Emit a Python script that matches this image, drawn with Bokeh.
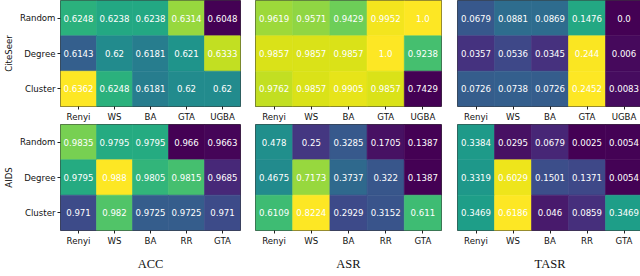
from bokeh.plotting import figure
from bokeh.models import FactorRange, LinearColorMapper, ColumnDataSource
from bokeh.layouts import column, row
from bokeh.palettes import Viridis256
from bokeh.core.properties import value
from bokeh.embed import file_html
from bokeh.resources import INLINE

# ---------------- data ----------------
row_labels = ["Random", "Degree", "Cluster"]
cite_cols = ["Renyi", "WS", "BA", "GTA", "UGBA"]
aids_cols = ["Renyi", "WS", "BA", "RR", "GTA"]

acc_cite = [[0.6248, 0.6238, 0.6238, 0.6314, 0.6048],
            [0.6143, 0.62, 0.6181, 0.621, 0.6333],
            [0.6362, 0.6248, 0.6181, 0.62, 0.62]]
asr_cite = [[0.9619, 0.9571, 0.9429, 0.9952, 1.0],
            [0.9857, 0.9857, 0.9857, 1.0, 0.9238],
            [0.9762, 0.9857, 0.9905, 0.9857, 0.7429]]
tasr_cite = [[0.0679, 0.0881, 0.0869, 0.1476, 0.0],
             [0.0357, 0.0536, 0.0345, 0.244, 0.006],
             [0.0726, 0.0738, 0.0726, 0.2452, 0.0083]]

acc_aids = [[0.9835, 0.9795, 0.9795, 0.966, 0.9663],
            [0.9795, 0.988, 0.9805, 0.9815, 0.9685],
            [0.971, 0.982, 0.9725, 0.9725, 0.971]]
asr_aids = [[0.478, 0.25, 0.3285, 0.1705, 0.1387],
            [0.4675, 0.7173, 0.3737, 0.322, 0.1387],
            [0.6109, 0.8224, 0.2929, 0.3152, 0.611]]
tasr_aids = [[0.3384, 0.0295, 0.0679, 0.0025, 0.0054],
             [0.3319, 0.6029, 0.1501, 0.1371, 0.0054],
             [0.3469, 0.6186, 0.046, 0.0859, 0.3469]]

metric_titles = ["ACC", "ASR", "TASR"]
dataset_names = ["CiteSeer", "AIDS"]

FONT = "DejaVu Sans"
FS = "8.6px"


def panel(vals, cols, ylabel, xlabel, bl, fw, br, fh, bb):
    xs, ys, vs, ts = [], [], [], []
    for i, r in enumerate(row_labels):
        for j, c in enumerate(cols):
            xs.append(c)
            ys.append(r)
            vs.append(vals[i][j])
            ts.append(str(vals[i][j]))
    flat = [v for rr in vals for v in rr]
    mapper = LinearColorMapper(palette=Viridis256, low=min(flat), high=max(flat))
    src = ColumnDataSource(dict(x=xs, y=ys, v=vs, t=ts))
    p = figure(x_range=FactorRange(*cols),
               y_range=FactorRange(*reversed(row_labels)),
               frame_width=fw, frame_height=fh,
               min_border_left=bl, min_border_right=br,
               min_border_top=0, min_border_bottom=bb,
               toolbar_location=None, output_backend="svg",
               y_axis_location="left" if ylabel else None)
    p.rect(x="x", y="y", width=1, height=1, source=src,
           fill_color={"field": "v", "transform": mapper},
           line_color={"field": "v", "transform": mapper}, line_width=0.6)
    p.text(x="x", y="y", text="t", source=src, text_align="center",
           text_baseline="middle", text_color="white",
           text_font_size=FS, text_font=value(FONT))
    p.xgrid.visible = False
    p.ygrid.visible = False
    p.outline_line_color = "#3a3a3a"
    p.outline_line_width = 1
    p.background_fill_color = "white"
    p.border_fill_color = "white"
    axes = list(p.xaxis) + (list(p.yaxis) if ylabel else [])
    for ax in axes:
        ax.axis_line_color = None
        ax.major_tick_out = 3
        ax.major_tick_in = 0
        ax.major_tick_line_color = "#222222"
        ax.major_label_text_font = FONT
        ax.major_label_text_font_size = FS
        ax.major_label_text_color = "#111111"
        ax.major_label_standoff = 2
    if ylabel:
        p.yaxis.axis_label = ylabel
        p.yaxis.axis_label_text_font = FONT
        p.yaxis.axis_label_text_font_size = FS
        p.yaxis.axis_label_text_font_style = "normal"
        p.yaxis.axis_label_text_color = "#111111"
        p.yaxis.axis_label_standoff = 3
    if xlabel:
        p.xaxis.axis_label = xlabel
        p.xaxis.axis_label_text_font = "Liberation Serif"
        p.xaxis.axis_label_text_font_size = "12.5px"
        p.xaxis.axis_label_text_font_style = "normal"
        p.xaxis.axis_label_text_color = "#111111"
        p.xaxis.axis_label_standoff = 8
    return p


FH = 106
row1 = row(
    panel(acc_cite, cite_cols, dataset_names[0], None, 48, 180, 7, FH, 18),
    panel(asr_cite, cite_cols, None, None, 8, 186, 8, FH, 18),
    panel(tasr_cite, cite_cols, None, None, 8, 185, 2, FH, 18),
)
row2 = row(
    panel(acc_aids, aids_cols, dataset_names[1], metric_titles[0], 48, 180, 7, FH, 38),
    panel(asr_aids, aids_cols, None, metric_titles[1], 8, 186, 8, FH, 38),
    panel(tasr_aids, aids_cols, None, metric_titles[2], 8, 185, 2, FH, 38),
)
layout = column(row1, row2)

with open("out.html", "w") as f:
    f.write(file_html(layout, INLINE))
